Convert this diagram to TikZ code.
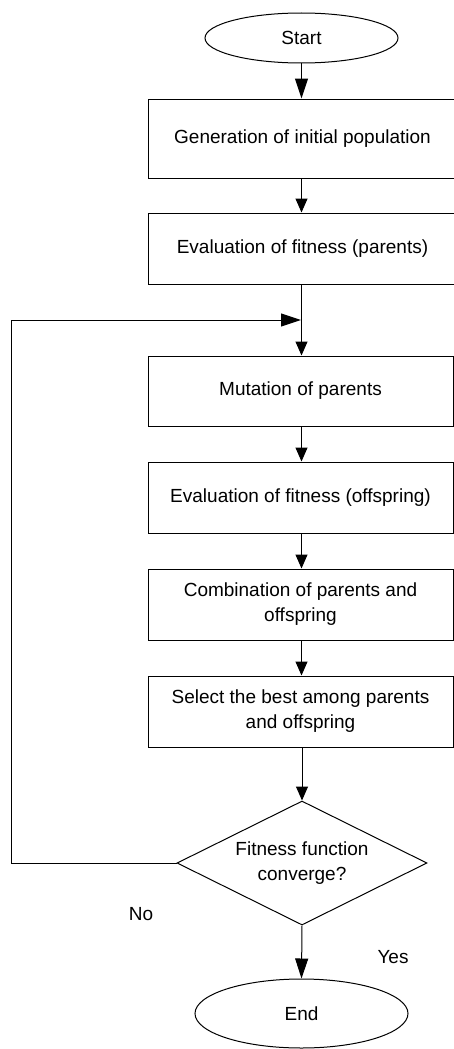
\documentclass[tikz,border=0pt]{standalone}
\usepackage{fontspec}
\setmainfont{Liberation Sans}
\usetikzlibrary{arrows.meta,shapes.geometric}
\begin{document}
\begin{tikzpicture}[x=1pt,y=-1pt,
  every node/.style={font=\fontsize{19}{25}\selectfont, text=black},
  box/.style={draw, line width=1pt, minimum width=305pt, inner sep=0pt, align=center},
  term/.style={draw, ellipse, line width=1pt, inner sep=0pt},
  decide/.style={draw, diamond, aspect=2, line width=1pt, inner sep=0pt, align=center, minimum width=250pt, minimum height=124pt},
  flow/.style={line width=1pt, -{Triangle[length=14pt,width=12pt]}},
  bigflow/.style={line width=1pt, -{Triangle[length=20pt,width=13pt]}}]
\useasboundingbox (0,0) rectangle (454,1049);
\node[term, minimum width=193pt, minimum height=50pt] (start) at (301.5,38) {Start};
\node[box, minimum height=79pt, minimum width=309pt] (b1) at (302.5,138.5) {Generation of initial population};
\node[box, minimum height=71pt, minimum width=309pt] (b2) at (302.5,248.5) {Evaluation of fitness (parents)};
\node[box, minimum height=70pt] (b3) at (300.5,391) {Mutation of parents};
\node[box, minimum height=71pt] (b4) at (300.5,497.5) {Evaluation of fitness (offspring)};
\node[box, minimum height=71pt] (b5) at (300.5,604.5) {Combination of parents and\\offspring};
\node[box, minimum height=71pt] (b6) at (300.5,711.5) {Select the best among parents\\and offspring};
\node[decide] (dec) at (302,863) {Fitness function\\converge?};
\node[term, minimum width=213pt, minimum height=69pt] (end) at (301.5,1013.5) {End};
\node (no) at (141,914) {No};
\node (yes) at (393,957) {Yes};
\coordinate (corner) at (11,320);
\coordinate (join) at (301,320);
\draw[bigflow] (start.south) -- (start.south |- b1.north);
\draw[flow] (b1.south -| start.south) -- (b2.north -| start.south);
\draw[flow] (b2.south -| start.south) -- (b3.north -| start.south);
\draw[flow] (b3.south -| start.south) -- (b4.north -| start.south);
\draw[flow] (b4.south -| start.south) -- (b5.north -| start.south);
\draw[flow] (b5.south -| start.south) -- (b6.north -| start.south);
\draw[flow] (b6.south -| dec.north) -- (dec.north);
\draw[bigflow] (dec.south) -- (end.north);
\draw[bigflow] (dec.west) -| (corner) -- (join);
\end{tikzpicture}
\end{document}
